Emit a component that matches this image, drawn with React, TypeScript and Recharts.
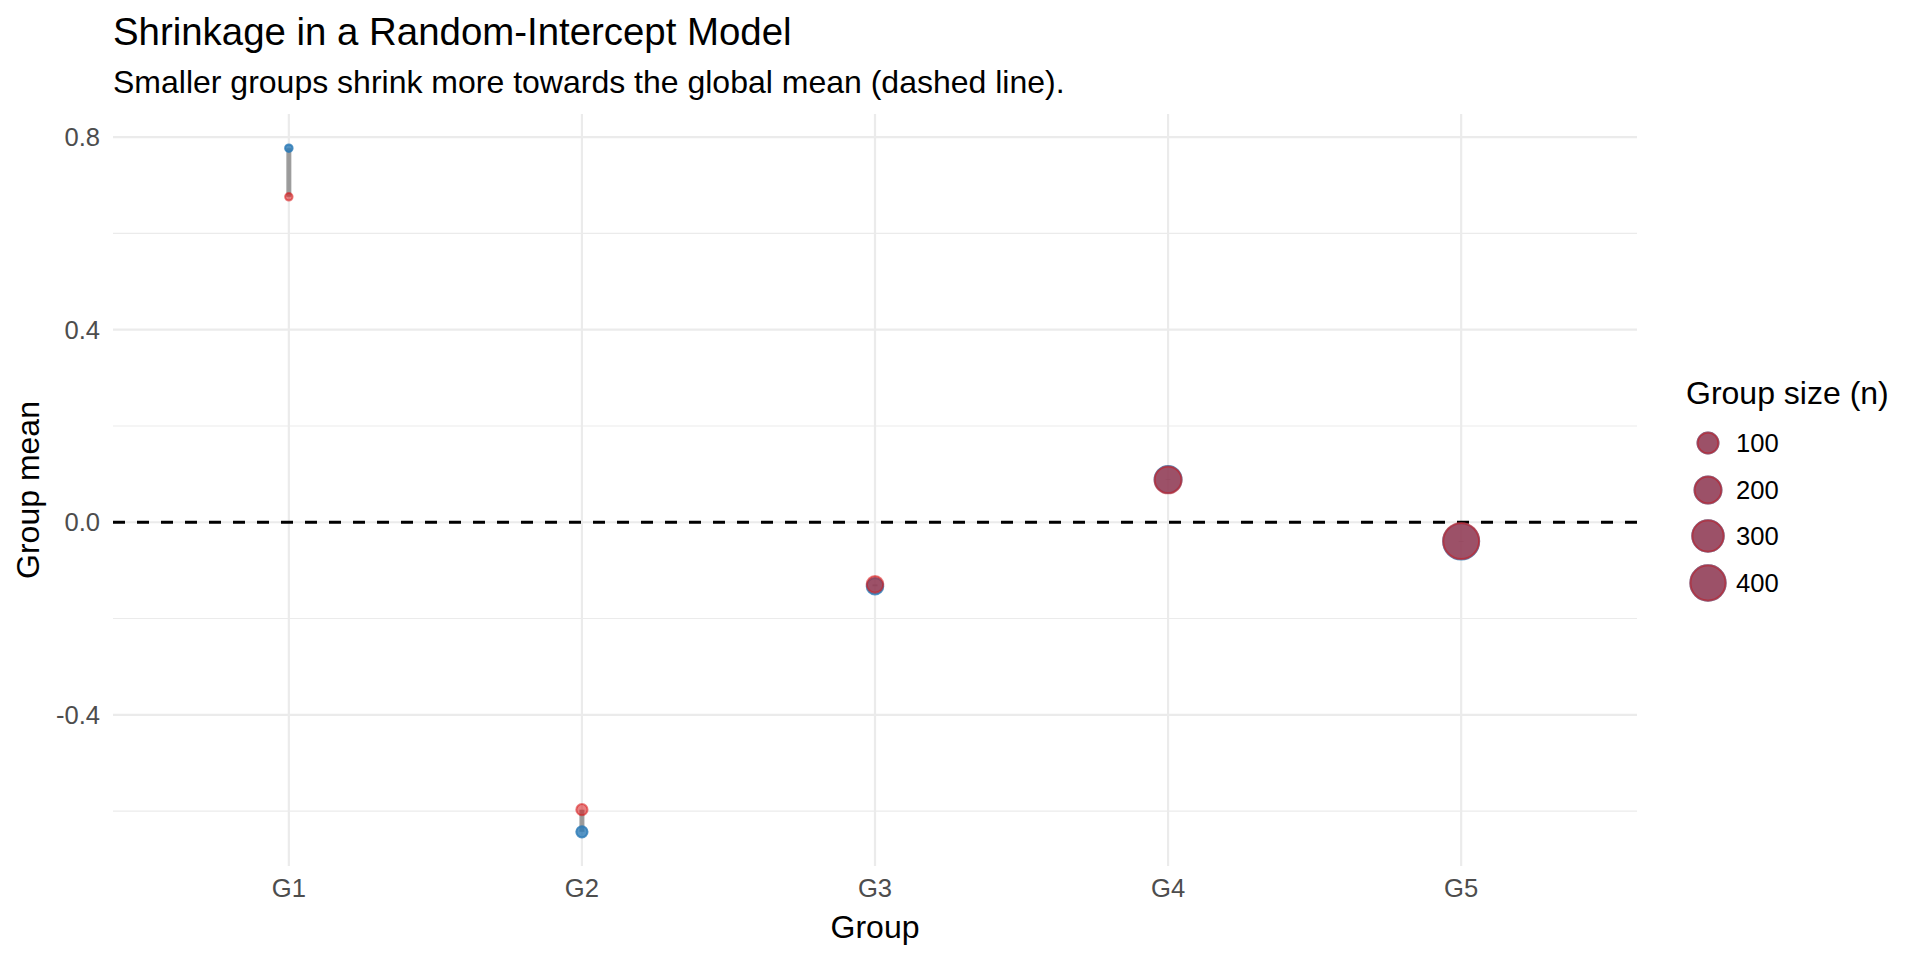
import React from 'react';
import { ScatterChart, Scatter, XAxis, YAxis, ZAxis, CartesianGrid, ReferenceLine, Legend } from 'recharts';

const FONT = '"Liberation Sans", Arial, Helvetica, sans-serif';

// ---- data ----
const groups = ['G1', 'G2', 'G3', 'G4', 'G5'];
const rawMeans = [0.777, -0.643, -0.133, 0.089, -0.04];
const shrunkMeans = [0.676, -0.597, -0.129, 0.088, -0.039];
const groupSizes = [8, 15, 50, 200, 420];
const globalMean = 0;
const yMajorTicks = [-0.4, 0, 0.4, 0.8];
const yMinorTicks = [-0.6, -0.2, 0.2, 0.6];
const sizeBreaks = [100, 200, 300, 400];

// ---- derived tables ----
const xTicks = groups.map((_, i) => i + 1);
const rawData = groups.map((g, i) => ({ x: i + 1, group: g, y: rawMeans[i], n: groupSizes[i] }));
const shrunkData = groups.map((g, i) => ({ x: i + 1, group: g, y: shrunkMeans[i], n: groupSizes[i] }));
const segmentData = groups.map((g, i) => [
  { x: i + 1, group: g, y: rawMeans[i], n: groupSizes[i] },
  { x: i + 1, group: g, y: shrunkMeans[i], n: groupSizes[i] },
]);

const allY = [...rawMeans, ...shrunkMeans];
const yMin = Math.min(...allY);
const yMax = Math.max(...allY);
const yPad = (yMax - yMin) * 0.05;
const yDomain: [number, number] = [yMin - yPad, yMax + yPad];
const xDomain: [number, number] = [0.4, groups.length + 0.6];
const nMin = Math.min(...groupSizes);
const nMax = Math.max(...groupSizes);

// ---- style ----
const BLUE = '#2C7BB6';
const RED = '#D7191C';
const BLUE_A = 0.8;
const RED_A = 0.55;
const D_MIN = 9.5;
const D_MAX = 38;
const diamFromUnit = (s: number) => D_MIN + (D_MAX - D_MIN) * Math.sqrt(Math.max(0, Math.min(1, s)));

const makeDot = (color: string, alpha: number) => (props: any) => {
  const { cx, cy, size, payload } = props;
  if (cx == null || cy == null) return <g />;
  const s = typeof size === 'number' && !isNaN(size) ? size : (payload.n - nMin) / (nMax - nMin);
  const d = diamFromUnit(s);
  return (
    <circle
      cx={cx}
      cy={cy}
      r={d / 2 - 1}
      fill={color}
      fillOpacity={alpha}
      stroke={color}
      strokeOpacity={alpha}
      strokeWidth={2}
    />
  );
};

const BlueDot = makeDot(BLUE, BLUE_A);
const RedDot = makeDot(RED, RED_A);
const NoDot = () => <g />;

const SizeLegend = () => {
  const keyY = [83, 130, 176, 223];
  return (
    <svg width={250} height={250} style={{ display: 'block' }}>
      <text x={16} y={44} fontSize={32} fontFamily={FONT} fill="#000">
        Group size (n)
      </text>
      {sizeBreaks.map((b, i) => {
        const d = diamFromUnit((b - nMin) / (nMax - nMin));
        return (
          <g key={b}>
            <circle cx={38} cy={keyY[i]} r={d / 2 - 1} fill={BLUE} fillOpacity={BLUE_A} stroke={BLUE} strokeOpacity={BLUE_A} strokeWidth={2} />
            <circle cx={38} cy={keyY[i]} r={d / 2 - 1} fill={RED} fillOpacity={RED_A} stroke={RED} strokeOpacity={RED_A} strokeWidth={2} />
            <text x={66} y={keyY[i]} dy="0.355em" fontSize={25.6} fontFamily={FONT} fill="#000">
              {b}
            </text>
          </g>
        );
      })}
    </svg>
  );
};

const tickStyle = { fill: '#4D4D4D', fontSize: 25.6, fontFamily: FONT };

export default function App() {
  return (
    <div style={{ position: 'absolute', left: 0, top: 0, width: 1920, height: 960, background: '#fff', fontFamily: FONT }}>
      <ScatterChart width={1920} height={960} margin={{ top: 114, right: 283, bottom: 64, left: 0 }}>
        <CartesianGrid yAxisId="minor" vertical={false} stroke="#EBEBEB" strokeWidth={1.1} syncWithTicks />
        <CartesianGrid stroke="#EBEBEB" strokeWidth={2.2} syncWithTicks />
        <XAxis
          type="number"
          dataKey="x"
          domain={xDomain}
          ticks={xTicks}
          allowDataOverflow
          tickFormatter={(v: number) => groups[v - 1] ?? ''}
          axisLine={false}
          tickLine={false}
          tickSize={7}
          tickMargin={6}
          height={30}
          tick={tickStyle}
          interval={0}
        />
        <YAxis
          type="number"
          dataKey="y"
          domain={yDomain}
          ticks={yMajorTicks}
          allowDataOverflow
          tickFormatter={(v: number) => v.toFixed(1)}
          axisLine={false}
          tickLine={false}
          tickSize={7}
          tickMargin={6}
          width={113}
          tick={tickStyle}
          interval={0}
        />
        <YAxis yAxisId="minor" type="number" domain={yDomain} ticks={yMinorTicks} allowDataOverflow hide />
        <ZAxis dataKey="n" type="number" domain={[nMin, nMax]} range={[0, 1]} />
        {segmentData.map((seg, i) => (
          <Scatter
            key={'seg' + i}
            data={seg}
            line={{ stroke: '#8C8C8C', strokeWidth: 5, strokeOpacity: 0.85 }}
            shape={NoDot}
            isAnimationActive={false}
          />
        ))}
        <Scatter data={rawData} shape={BlueDot} isAnimationActive={false} />
        <Scatter data={shrunkData} shape={RedDot} isAnimationActive={false} />
        <ReferenceLine y={globalMean} stroke="#000" strokeWidth={3} strokeDasharray="12 12" />
        <Legend
          layout="vertical"
          align="center"
          verticalAlign="middle"
          content={() => <SizeLegend />}
          wrapperStyle={{ position: 'absolute', left: 1670, top: 360, width: 250, height: 250 }}
        />
      </ScatterChart>
      <svg width={1920} height={960} style={{ position: 'absolute', left: 0, top: 0, pointerEvents: 'none' }}>
        <text x={113} y={45} fontSize={38.4} fontFamily={FONT} fill="#000">
          Shrinkage in a Random-Intercept Model
        </text>
        <text x={113} y={93} fontSize={32} fontFamily={FONT} fill="#000">
          Smaller groups shrink more towards the global mean (dashed line).
        </text>
        <text x={875} y={938} textAnchor="middle" fontSize={32} fontFamily={FONT} fill="#000">
          Group
        </text>
        <text transform="translate(39,490) rotate(-90)" textAnchor="middle" fontSize={32} fontFamily={FONT} fill="#000">
          Group mean
        </text>
      </svg>
    </div>
  );
}
